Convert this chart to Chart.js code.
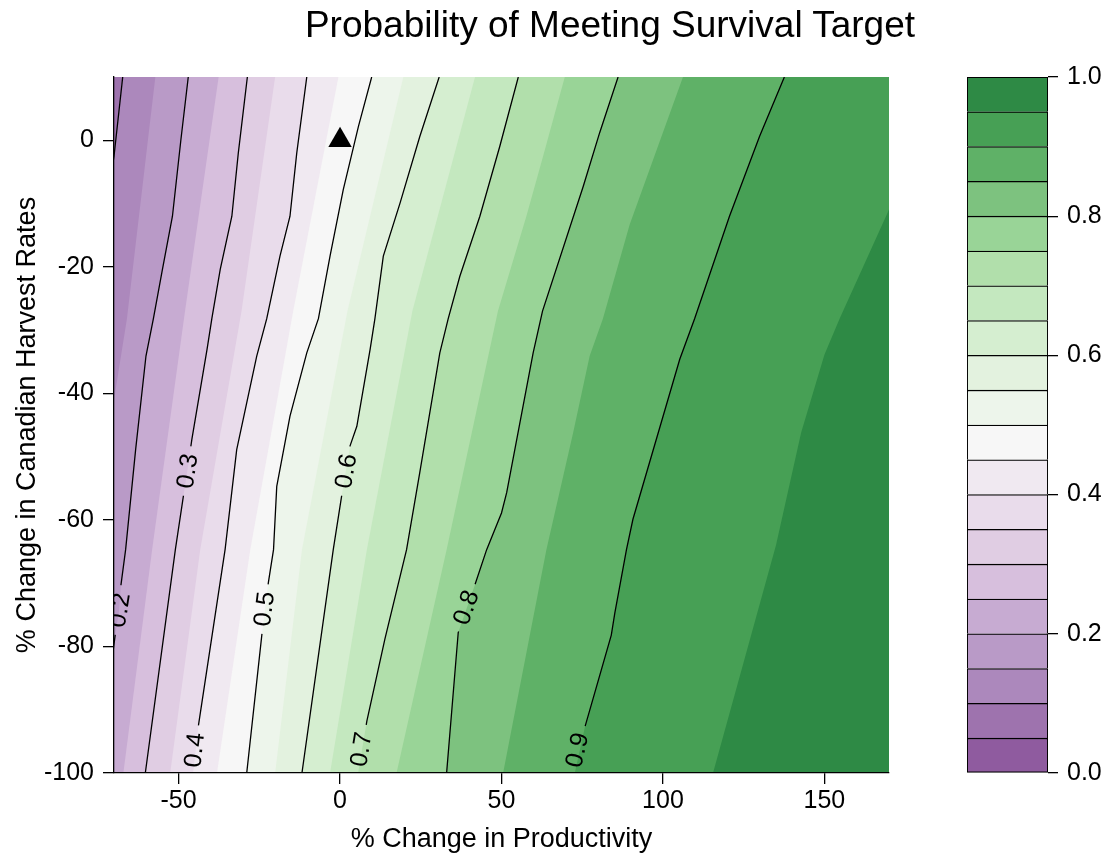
<!DOCTYPE html>
<html>
<head>
<meta charset="utf-8">
<title>Probability of Meeting Survival Target</title>
<script src="https://cdn.jsdelivr.net/npm/chart.js@4.4.1/dist/chart.umd.min.js"></script>
<style>
  html, body { margin: 0; padding: 0; background: #fff; }
  #wrap { position: relative; width: 1107px; height: 860px; overflow: hidden; }
  #title {
    position: absolute; left: 210px; width: 800px; top: 4px;
    text-align: center; white-space: nowrap; color: #000;
    font-family: "Liberation Sans", Arial, sans-serif; font-size: 37px; line-height: 42px;
  }
  #mainChart { position: absolute; left: 0; top: 0; }
  #barChart { position: absolute; left: 940px; top: 0; }
</style>
</head>
<body>
<div id="wrap">
  <canvas id="mainChart" width="1107" height="860"></canvas>
  <canvas id="barChart" width="167" height="860"></canvas>
  <div id="title">Probability of Meeting Survival Target</div>
</div>
<script>
// --- Axis ranges and ticks ---
const xRange = [-70, 170];
const yRange = [-100, 10];
const xTicks = [-50, 0, 50, 100, 150];
const yTicks = [-100, -80, -60, -40, -20, 0];
const cbTicks = [0, 0.2, 0.4, 0.6, 0.8, 1.0];

// --- Colour bands (0.05 wide) ---
const bandEdges = [0, 0.05, 0.1, 0.15, 0.2, 0.25, 0.3, 0.35, 0.4, 0.45, 0.5,
                   0.55, 0.6, 0.65, 0.7, 0.75, 0.8, 0.85, 0.9, 0.95, 1.0];
const bandColors = [
  '#8f5b9f', '#9e73ae', '#ac88bc', '#b99ac7', '#c7abd2',
  '#d7bfdd', '#e0cde3', '#e9dceb', '#f0e9f1', '#f7f7f7',
  '#edf5eb', '#e3f2df', '#d5eed0', '#c4e8bf', '#b1dfab',
  '#99d497', '#7dc27f', '#5fb167', '#47a055', '#2e8a45'
];

// --- Contour lines [x, y], read top (y = 10) to bottom (y = -100) ---
const c10 = [[-67.3, 10], [-70, -2.5], [-78, -30], [-88, -65], [-97, -100]];
const c20 = [[-47, 10], [-49.3, 0], [-51.9, -12], [-55, -20.4], [-57.8, -28.2], [-60.1, -34.1],
             [-63.3, -48.9], [-66.4, -64.7], [-67.9, -70.5], [-68.4, -74.2], [-69.6, -78.1],
             [-70.6, -82], [-73, -100]];
const c30 = [[-28.7, 10], [-31.5, -2], [-33.5, -12], [-37.1, -20.4], [-39.7, -28.2], [-41.2, -33.1],
             [-45.9, -47.3], [-47, -51.2], [-48.5, -56.2], [-51, -64.7], [-60.3, -100]];
const c40 = [[-10.3, 10], [-13.4, -2], [-15.5, -12], [-18.6, -18.3], [-22.7, -28.2], [-25.8, -34.1],
             [-32, -48.9], [-35.6, -64.7], [-43.8, -92.3], [-45.5, -100]];
const c50 = [[9.8, 10], [5.7, 2.2], [1, -7.8], [-3.1, -18.3], [-6.7, -28.2], [-10.3, -33.6],
             [-15.5, -43.6], [-19.6, -54.7], [-20.6, -64.7], [-22.2, -69.9], [-24.2, -78.1], [-28.9, -100]];
const c60 = [[30.7, 10], [24.7, 0.6], [18.6, -9.9], [13.4, -18.3], [10.8, -28.2], [9.3, -33.1],
             [5.2, -45.2], [3.1, -48.3], [0.5, -56.2], [-2.1, -64.7], [-11.8, -100]];
const c70 = [[55.2, 10], [49.5, -0.9], [43.3, -12], [37.1, -21.5], [33.5, -28.2], [30.9, -33.6],
             [24.7, -52.5], [20.6, -64.7], [13.9, -78.8], [8.3, -91.8], [5.6, -100]];
const c80 = [[86.1, 10], [80.4, 1.2], [75.3, -7.3], [62.7, -27], [59.8, -33.6], [51.6, -55.7],
             [50, -58.9], [45.4, -64.7], [41.8, -70.2], [36.6, -77.8], [33, -100]];
const c90 = [[137.6, 10], [129.9, 0.6], [120.6, -12], [109.8, -28.2], [105.2, -34.6], [90.7, -59.9],
             [88.7, -64.7], [85.1, -74.7], [84, -78.2], [75.8, -92.8], [72.7, -100]];

// --- Fill band edges between the lines (0.15, 0.25 ... 0.95) ---
const e15 = [[-57.2, 10], [-66, -28.2], [-70, -41], [-76, -65], [-83, -100]];
const e25 = [[-37.6, 10], [-48, -27], [-58.2, -64.7], [-67.1, -100]];
const e35 = [[-20.1, 10], [-30.5, -27], [-43.3, -64.7], [-52.6, -100]];
const e45 = [[-0.5, 10], [-14.5, -27], [-27.8, -64.7], [-38.1, -100]];
const e55 = [[19.6, 10], [2.3, -27], [-11.8, -64.7], [-20.1, -100]];
const e65 = [[41.8, 10], [22.4, -27], [8.3, -64.7], [-3.1, -100]];
const e75 = [[69.6, 10], [62.9, -2.5], [57.7, -12], [48.9, -27], [33, -64.7], [17.5, -100]];
const e85 = [[106.2, 10], [89.7, -13.3], [81.4, -28.2], [77.3, -34.1], [72.2, -46.2], [63.9, -64.7], [50.5, -100]];
const e95 = [[189, 10], [169.6, -11.4], [154.7, -28.2], [150, -33.9], [142.8, -46.2], [135, -64], [115.5, -100]];

// --- Contour labels ---
const labelText = ['0.2', '0.3', '0.4', '0.5', '0.6', '0.7', '0.8', '0.9'];
const labelX = [-68.0, -47.0, -44.8, -23.2, 2.1, 6.8, 39.3, 73.7];
const labelY = [-74.3, -52.3, -96.4, -74.1, -52.3, -96.3, -73.9, -96.4];
const labelLine = [c20, c30, c40, c50, c60, c70, c80, c90];

// --- Reference point (current productivity / harvest) ---
const markerX = [0];
const markerY = [0];

const FONT = '"Liberation Sans", Arial, sans-serif';
Chart.defaults.font.family = FONT;
Chart.defaults.color = '#000';

const toPts = arr => arr.map(([x, y]) => ({ x, y }));

const boundaries = [
  [0.1, c10], [0.15, e15], [0.2, c20], [0.25, e25], [0.3, c30], [0.35, e35],
  [0.4, c40], [0.45, e45], [0.5, c50], [0.55, e55], [0.6, c60], [0.65, e65],
  [0.7, c70], [0.75, e75], [0.8, c80], [0.85, e85], [0.9, c90], [0.95, e95]
];
const contourLines = [c10, c20, c30, c40, c50, c60, c70, c80, c90];

// filled bands: each edge paints everything to its right with the band above it
const datasets = [];
datasets.push({
  data: toPts(boundaries[0][1]), fill: { value: xRange[0] },
  backgroundColor: bandColors[Math.round(boundaries[0][0] * 20) - 1],
  borderColor: 'rgba(0,0,0,0)', borderWidth: 0, pointRadius: 0, order: 200
});
boundaries.forEach(([lvl, pts], i) => {
  datasets.push({
    data: toPts(pts), fill: { value: xRange[1] },
    backgroundColor: bandColors[Math.round(lvl * 20)],
    borderColor: 'rgba(0,0,0,0)', borderWidth: 0, pointRadius: 0, order: 100 - i
  });
});
contourLines.forEach(pts => {
  datasets.push({
    data: toPts(pts), fill: false, isContour: true,
    borderColor: '#000', borderWidth: 1.3, pointRadius: 0, order: -10
  });
});
datasets.push({
  data: markerX.map((x, i) => ({ x, y: markerY[i] })), showLine: false,
  pointStyle: 'triangle', pointRadius: 13.5, pointBackgroundColor: '#000',
  pointBorderWidth: 0, order: -20
});

function labelGeom(chart, i) {
  const xs = chart.scales.x, ys = chart.scales.y;
  const pts = labelLine[i];
  let k = 0;
  while (k < pts.length - 2 && pts[k + 1][1] > labelY[i]) k++;
  const ax = xs.getPixelForValue(pts[k][0]), ay = ys.getPixelForValue(pts[k][1]);
  const bx = xs.getPixelForValue(pts[k + 1][0]), by = ys.getPixelForValue(pts[k + 1][1]);
  return {
    px: xs.getPixelForValue(labelX[i]),
    py: ys.getPixelForValue(labelY[i]),
    angle: Math.atan2(ay - by, ax - bx)
  };
}

function addBox(ctx, g, hl, hw) {
  const c = Math.cos(g.angle), s = Math.sin(g.angle);
  [[-hl, -hw], [hl, -hw], [hl, hw], [-hl, hw]].forEach(([u, v], j) => {
    const X = g.px + u * c - v * s, Y = g.py + u * s + v * c;
    if (j) ctx.lineTo(X, Y); else ctx.moveTo(X, Y);
  });
  ctx.closePath();
}

const contourLabels = {
  id: 'contourLabels',
  beforeDatasetDraw(chart, args) {
    if (!chart.data.datasets[args.index].isContour) return;
    const ctx = chart.ctx;
    ctx.save();
    ctx.beginPath();
    ctx.rect(0, 0, chart.width, chart.height);
    labelText.forEach((t, i) => addBox(ctx, labelGeom(chart, i), 25, 13));
    ctx.clip('evenodd');
  },
  afterDatasetDraw(chart, args) {
    if (chart.data.datasets[args.index].isContour) chart.ctx.restore();
  },
  afterDatasetsDraw(chart) {
    const { ctx, chartArea: a } = chart;
    ctx.save();
    ctx.beginPath();
    ctx.rect(a.left, a.top, a.right - a.left, a.bottom - a.top);
    ctx.clip();
    ctx.font = '25px ' + FONT;
    ctx.fillStyle = '#000';
    ctx.textAlign = 'center';
    ctx.textBaseline = 'middle';
    labelText.forEach((t, i) => {
      const g = labelGeom(chart, i);
      ctx.save();
      ctx.translate(g.px, g.py);
      ctx.rotate(g.angle);
      ctx.fillText(t, 0, 0);
      ctx.restore();
    });
    ctx.restore();
  }
};

new Chart(document.getElementById('mainChart'), {
  type: 'line',
  data: { datasets },
  plugins: [contourLabels],
  options: {
    indexAxis: 'y',
    responsive: false,
    animation: false,
    events: [],
    layout: { padding: { top: 77, right: 218, left: 0, bottom: 0 } },
    elements: { line: { tension: 0 } },
    plugins: { legend: { display: false }, tooltip: { enabled: false } },
    scales: {
      x: {
        type: 'linear', min: xRange[0], max: xRange[1],
        afterBuildTicks: s => { s.ticks = xTicks.map(v => ({ value: v })); },
        afterFit: s => { s.height = 87; },
        grid: { drawOnChartArea: false, drawTicks: true, tickLength: 11, color: '#000', lineWidth: 1.3 },
        border: { display: true, color: '#000', width: 1.3, z: 1 },
        ticks: { color: '#000', font: { size: 25 }, padding: 2, maxRotation: 0, autoSkip: false,
                 callback: v => String(v) },
        title: { display: true, text: '% Change in Productivity', color: '#000',
                 font: { size: 27 }, padding: { top: 0, bottom: 4 } }
      },
      y: {
        type: 'linear', position: 'left', min: yRange[0], max: yRange[1],
        afterBuildTicks: s => { s.ticks = yTicks.map(v => ({ value: v })); },
        afterFit: s => { s.width = 114; },
        grid: { drawOnChartArea: false, drawTicks: true, tickLength: 11, color: '#000', lineWidth: 1.3 },
        border: { display: true, color: '#000', width: 1.3, z: 1 },
        ticks: { color: '#000', font: { size: 25 }, padding: 9, autoSkip: false,
                 callback: v => String(v) },
        title: { display: true, text: '% Change in Canadian Harvest Rates', color: '#000',
                 font: { size: 27 }, padding: { top: 11, bottom: 0 } }
      }
    }
  }
});

// --- Colour key ---
new Chart(document.getElementById('barChart'), {
  type: 'bar',
  data: {
    labels: [''],
    datasets: bandColors.map((c, i) => ({
      data: [bandEdges[i + 1] - bandEdges[i]],
      backgroundColor: c,
      borderColor: '#000',
      borderWidth: 1.3,
      borderSkipped: i === 0 ? false : 'start',
      barPercentage: 1,
      categoryPercentage: 1
    }))
  },
  options: {
    responsive: false,
    animation: false,
    events: [],
    layout: { padding: { left: 27, top: 77, bottom: 87, right: 0 } },
    plugins: { legend: { display: false }, tooltip: { enabled: false } },
    scales: {
      x: { display: false, stacked: true },
      y: {
        stacked: true, position: 'right', min: 0, max: 1,
        afterBuildTicks: s => { s.ticks = cbTicks.map(v => ({ value: v })); },
        afterFit: s => { s.width = 59; },
        grid: { drawOnChartArea: false, drawTicks: true, tickLength: 10, color: '#000', lineWidth: 1.3 },
        border: { display: false },
        ticks: { color: '#000', font: { size: 25 }, padding: 9, callback: v => v.toFixed(1) }
      }
    }
  }
});
</script>
</body>
</html>
